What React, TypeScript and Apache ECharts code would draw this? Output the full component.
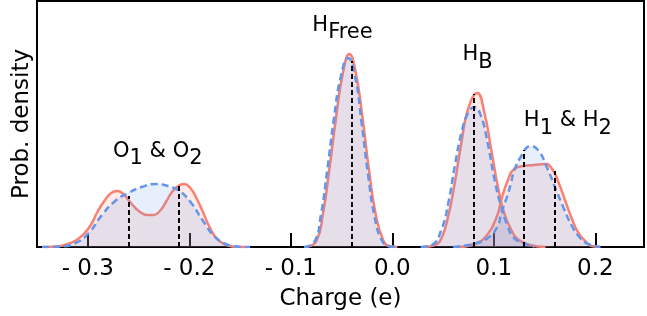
import React, { useEffect, useRef } from "react";
import * as echarts from "echarts";

type P = [number, number];

// x: charge (e), y: probability density (arbitrary units)
const oRed: P[] = [[-0.345,0],[-0.335,0.02],[-0.325,0.15],[-0.318,0.35],[-0.311,0.7],[-0.304,1.3],[-0.297,2.2],[-0.29,3.6],[-0.283,4.7],[-0.277,5.4],[-0.271,5.6],[-0.265,5.3],[-0.259,4.6],[-0.253,3.9],[-0.247,3.4],[-0.241,3.2],[-0.235,3.2],[-0.229,3.6],[-0.223,4.5],[-0.217,5.5],[-0.211,6.1],[-0.205,6.3],[-0.199,5.9],[-0.193,4.9],[-0.187,3.6],[-0.181,2.2],[-0.175,1.1],[-0.169,0.5],[-0.162,0.15],[-0.155,0.03],[-0.145,0]];
const oBlue: P[] = [[-0.345,0],[-0.328,0.05],[-0.312,0.4],[-0.299,1.4],[-0.286,3.2],[-0.273,4.6],[-0.26,5.4],[-0.247,6.0],[-0.2324,6.3],[-0.221,6.1],[-0.2096,5.6],[-0.198,4.4],[-0.187,2.7],[-0.1755,1.1],[-0.164,0.3],[-0.153,0.05],[-0.14,0]];
const hfRed: P[] = [[-0.085,0],[-0.0748,0.6],[-0.0683,3.3],[-0.0618,7.9],[-0.0554,12.9],[-0.0488,17.3],[-0.0423,19.3],[-0.0359,17.4],[-0.0293,12.9],[-0.0228,7.6],[-0.0164,3.3],[-0.0098,0.9],[-0.0033,0.1],[0.005,0]];
const hfBlue: P[] = [[-0.087,0],[-0.0768,0.5],[-0.0703,3.2],[-0.0638,7.9],[-0.0574,12.9],[-0.0508,17.0],[-0.0435,18.9],[-0.0369,17.2],[-0.0303,12.5],[-0.0238,7.2],[-0.0174,3.0],[-0.011,0.8],[-0.004,0.1],[0.004,0]];
const hbRed: P[] = [[0.03,0],[0.0421,0.2],[0.0486,0.9],[0.0552,3.1],[0.0616,6.4],[0.0681,10.4],[0.0747,13.8],[0.0837,15.4],[0.0908,13.4],[0.0974,9.8],[0.1039,6.1],[0.1103,3.4],[0.1169,1.8],[0.1234,0.8],[0.136,0.2],[0.151,0]];
const hbBlue: P[] = [[0.028,0],[0.0389,0.2],[0.0486,1.8],[0.0552,4.4],[0.0616,8.1],[0.0681,11.4],[0.0747,13.4],[0.081,14.0],[0.0874,13.1],[0.094,10.4],[0.1006,6.8],[0.1071,4.1],[0.1136,2.1],[0.12,0.9],[0.1315,0.3],[0.14,0]];
const h12Red: P[] = [[0.065,0],[0.0811,0.3],[0.0942,1.3],[0.1039,3.3],[0.1071,4.6],[0.1136,6.6],[0.12,7.8],[0.1298,8.1],[0.1396,8.2],[0.151,8.3],[0.1575,7.8],[0.164,6.4],[0.1705,4.6],[0.177,2.8],[0.1834,1.4],[0.19,0.6],[0.1965,0.1],[0.205,0]];
const h12Blue: P[] = [[0.06,0],[0.0795,0.3],[0.0942,0.9],[0.1039,2.1],[0.1071,3.3],[0.1136,5.2],[0.1169,6.4],[0.12,7.6],[0.1266,9.0],[0.1363,10.1],[0.1444,9.6],[0.1526,7.9],[0.1607,5.9],[0.1688,3.9],[0.177,2.1],[0.1851,0.9],[0.1932,0.3],[0.205,0]];

const vLineX = [-0.26, -0.21, -0.04, 0.08, 0.13, 0.16];
const vLineTop = [5.1, 6.1, 18.6, 15.3, 9.7, 7.6];

const xTicks = [-0.3, -0.2, -0.1, 0.0, 0.1, 0.2];
const xTickLabels = ["- 0.3", "- 0.2", "- 0.1", "0.0", "0.1", "0.2"];

const annText = ["{m|O}{s|1}{m| & O}{s|2}", "{m|H}{s|Free}", "{m|H}{s|B}", "{m|H}{s|1}{m| & H}{s|2}"];
const annX = [-0.231, -0.049, 0.084, 0.173];
const annY = [9.0, 21.6, 18.65, 12.05];

const RED = "#fa8072";
const BLUE = "#6495ed";
const FONT = "DejaVu Sans";

export default function App() {
  const ref = useRef<HTMLDivElement>(null);
  useEffect(() => {
    if (!ref.current) return;
    const chart = echarts.init(ref.current, null, { renderer: "svg" });
    const redSeries = (d: P[]) => ({
      type: "line", data: d, smooth: 0.5, showSymbol: false, silent: true,
      lineStyle: { color: RED, width: 2.5 },
      areaStyle: { color: "rgba(250,128,114,0.22)" },
      z: 2,
    });
    const blueSeries = (d: P[]) => ({
      type: "line", data: d, smooth: 0.5, showSymbol: false, silent: true,
      lineStyle: { color: BLUE, width: 2.5, type: [7, 4] },
      areaStyle: { color: "rgba(100,149,237,0.22)" },
      z: 3,
    });
    const series: any[] = [
      redSeries(oRed), redSeries(hfRed), redSeries(hbRed), redSeries(h12Red),
      blueSeries(oBlue), blueSeries(hfBlue), blueSeries(hbBlue), blueSeries(h12Blue),
    ];
    series.push({
      type: "line", data: [], silent: true,
      markLine: {
        silent: true, symbol: ["none", "none"], animation: false,
        label: { show: false },
        lineStyle: { color: "#000", width: 2, type: [5, 3], opacity: 1 },
        data: vLineX.map((x, i) => [{ coord: [x, 0] }, { coord: [x, vLineTop[i]] }]),
      },
      z: 4,
    });
    const tok = { fontSize: 21, fontFamily: FONT, color: "#000", opacity: 1 };
    series.push({
      type: "scatter", symbolSize: 0, silent: true, z: 5,
      itemStyle: { color: "#000", opacity: 1 },
      data: annX.map((x, i) => ({
        value: [x, annY[i]],
        label: {
          show: true, position: "inside", formatter: annText[i], color: "#000", opacity: 1,
          textBorderWidth: 0,
          rich: {
            m: { ...tok, lineHeight: 24, verticalAlign: "top" },
            s: { ...tok, lineHeight: 36 },
          },
        },
      })),
    });
    chart.setOption({
      animation: false,
      grid: { left: 31, right: 3, top: 1, bottom: 69, show: true, borderColor: "#000", borderWidth: 2, backgroundColor: "transparent" },
      xAxis: {
        type: "value", min: -0.35, max: 0.248,
        name: "Charge (e)", nameLocation: "middle", nameGap: 38,
        nameTextStyle: { fontSize: 23, fontFamily: FONT, color: "#000" },
        axisLine: { show: true, lineStyle: { color: "#000", width: 2 } },
        axisTick: { show: true, inside: true, length: 14, customValues: xTicks, lineStyle: { color: "#000", width: 2 } },
        axisLabel: {
          show: true, customValues: xTicks, margin: 8, fontSize: 23, fontFamily: FONT, color: "#000",
          formatter: (v: number) => { const i = xTicks.findIndex((t) => Math.abs(t - v) < 1e-6); return i >= 0 ? xTickLabels[i] : ""; },
        },
        splitLine: { show: false },
      },
      yAxis: {
        type: "value", min: 0, max: 24.6,
        name: "Prob. density", nameLocation: "middle", nameGap: 6,
        nameTextStyle: { fontSize: 23, fontFamily: FONT, color: "#000" },
        axisLine: { show: false }, axisTick: { show: false }, axisLabel: { show: false }, splitLine: { show: false },
      },
      series,
    });
    return () => chart.dispose();
  }, []);
  return <div ref={ref} style={{ position: "fixed", left: 0, top: 0, width: 647, height: 316 }} />;
}
